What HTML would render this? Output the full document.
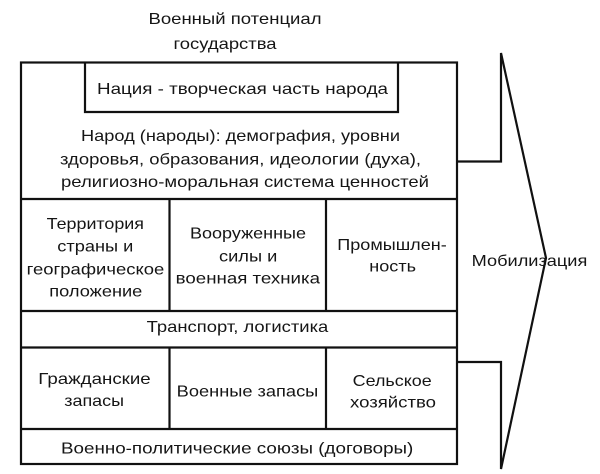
<!DOCTYPE html>
<html>
<head>
<meta charset="utf-8">
<style>
html,body{margin:0;padding:0;background:#fff;}
svg{display:block;}
text{font-family:"Liberation Sans","DejaVu Sans",sans-serif;font-size:16px;fill:#151515;}
</style>
</head>
<body>
<svg width="600" height="474" viewBox="0 0 600 474" xmlns="http://www.w3.org/2000/svg">
<g fill="none" stroke="#111" stroke-width="2.2">
  <rect x="21" y="62.5" width="436" height="401.5"/>
  <polyline points="85,62.5 85,112 398,112 398,62.5"/>
  <line x1="21" y1="199" x2="457" y2="199"/>
  <line x1="169.5" y1="199" x2="169.5" y2="311"/>
  <line x1="326" y1="199" x2="326" y2="311"/>
  <line x1="21" y1="311" x2="457" y2="311"/>
  <line x1="21" y1="347.5" x2="457" y2="347.5"/>
  <line x1="169.5" y1="347.5" x2="169.5" y2="429"/>
  <line x1="326" y1="347.5" x2="326" y2="429"/>
  <line x1="21" y1="429" x2="457" y2="429"/>
  <polyline points="457,161.5 501,161.5 501,53 546,258 501,469 501,362 457,362" stroke-linejoin="miter"/>
</g>
<g>
  <text x="148.5" y="24" textLength="173" lengthAdjust="spacingAndGlyphs">Военный потенциал</text>
  <text x="173.5" y="49" textLength="103" lengthAdjust="spacingAndGlyphs">государства</text>

  <text x="97" y="94" textLength="291" lengthAdjust="spacingAndGlyphs">Нация - творческая часть народа</text>

  <text x="81" y="141" textLength="319" lengthAdjust="spacingAndGlyphs">Народ (народы): демография, уровни</text>
  <text x="60" y="164.5" textLength="361" lengthAdjust="spacingAndGlyphs">здоровья, образования, идеологии (духа),</text>
  <text x="61" y="187" textLength="368" lengthAdjust="spacingAndGlyphs">религиозно-моральная система ценностей</text>

  <text x="46.7" y="229" textLength="97.3" lengthAdjust="spacingAndGlyphs">Территория</text>
  <text x="57.3" y="251.7" textLength="76" lengthAdjust="spacingAndGlyphs">страны и</text>
  <text x="26.7" y="274.3" textLength="137.6" lengthAdjust="spacingAndGlyphs">географическое</text>
  <text x="49.3" y="296.5" textLength="93" lengthAdjust="spacingAndGlyphs">положение</text>

  <text x="190" y="238.3" textLength="116" lengthAdjust="spacingAndGlyphs">Вооруженные</text>
  <text x="219" y="261.7" textLength="58.3" lengthAdjust="spacingAndGlyphs">силы и</text>
  <text x="175.7" y="283.3" textLength="144.3" lengthAdjust="spacingAndGlyphs">военная техника</text>

  <text x="337.3" y="250" textLength="109.4" lengthAdjust="spacingAndGlyphs">Промышлен-</text>
  <text x="369.3" y="271.7" textLength="46.7" lengthAdjust="spacingAndGlyphs">ность</text>

  <text x="471.7" y="266" textLength="115.6" lengthAdjust="spacingAndGlyphs">Мобилизация</text>

  <text x="146.7" y="332" textLength="181.6" lengthAdjust="spacingAndGlyphs">Транспорт, логистика</text>

  <text x="38.3" y="384" textLength="112.4" lengthAdjust="spacingAndGlyphs">Гражданские</text>
  <text x="64.3" y="406" textLength="59.7" lengthAdjust="spacingAndGlyphs">запасы</text>

  <text x="176.7" y="396.7" textLength="141.6" lengthAdjust="spacingAndGlyphs">Военные запасы</text>

  <text x="352.7" y="386" textLength="79" lengthAdjust="spacingAndGlyphs">Сельское</text>
  <text x="350" y="407.3" textLength="86" lengthAdjust="spacingAndGlyphs">хозяйство</text>

  <text x="61" y="453.3" textLength="352.3" lengthAdjust="spacingAndGlyphs">Военно-политические союзы (договоры)</text>
</g>
</svg>
</body>
</html>
